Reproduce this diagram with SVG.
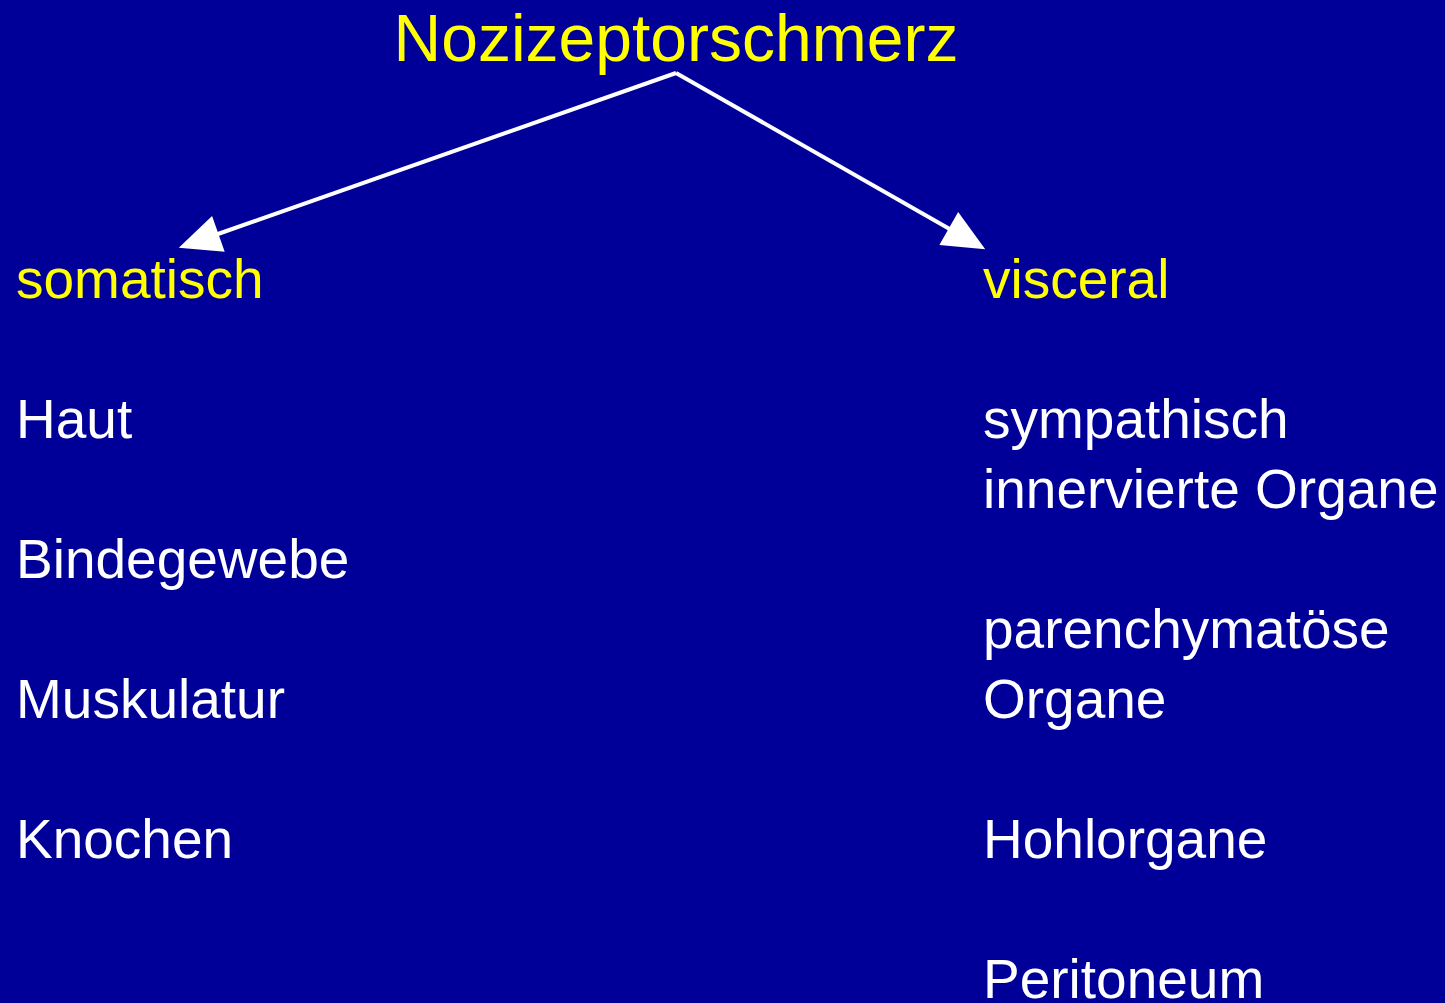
<svg xmlns="http://www.w3.org/2000/svg" width="1445" height="1003" viewBox="0 0 1445 1003">
<style>
text{font-family:"Liberation Sans",Arial,sans-serif;font-size:55px}
.y{fill:#FFFF00}
.w{fill:#FFFFFF}
.title{font-size:66px}
.conn{stroke:#FFFFFF;stroke-width:4;fill:none}
</style>
<defs>
<marker id="ah" markerUnits="userSpaceOnUse" markerWidth="50" markerHeight="50" refX="2" refY="19" orient="auto" overflow="visible">
<path d="M0,0 L42,19 L0,38 z" fill="#FFFFFF"/>
</marker>
</defs>
<rect x="0" y="0" width="1445" height="1003" fill="#000099"/>
<g id="connectors">
<line class="conn" x1="676" y1="73" x2="216.5" y2="234.5" marker-end="url(#ah)"/>
<line class="conn" x1="676" y1="73" x2="950.5" y2="229.5" marker-end="url(#ah)"/>
</g>
<g id="n-title"><text class="y title" x="676" y="61" text-anchor="middle">Nozizeptorschmerz</text></g>
<g id="n-somatisch"><text class="y" x="16" y="298">somatisch</text></g>
<g id="n-visceral"><text class="y" x="983" y="298">visceral</text></g>
<g id="n-haut"><text class="w" x="16" y="438">Haut</text></g>
<g id="n-bindegewebe"><text class="w" x="16" y="578">Bindegewebe</text></g>
<g id="n-muskulatur"><text class="w" x="16" y="718">Muskulatur</text></g>
<g id="n-knochen"><text class="w" x="16" y="858">Knochen</text></g>
<g id="n-sympathisch"><text class="w" x="983" y="438">sympathisch</text><text class="w" x="983" y="508">innervierte Organe</text></g>
<g id="n-parenchym"><text class="w" x="983" y="648">parenchymatöse</text><text class="w" x="983" y="718">Organe</text></g>
<g id="n-hohlorgane"><text class="w" x="983" y="858">Hohlorgane</text></g>
<g id="n-peritoneum"><text class="w" x="983" y="998">Peritoneum</text></g>
</svg>
